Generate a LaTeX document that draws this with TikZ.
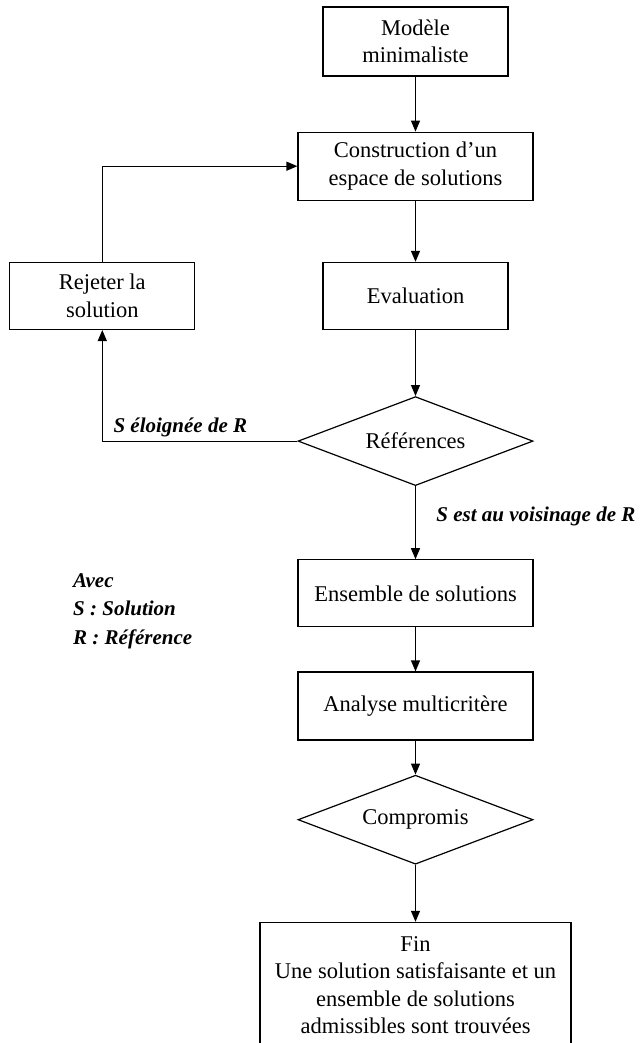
\documentclass[tikz,border=0pt]{standalone}
\usepackage{fontspec}
\setmainfont{Liberation Serif}
\usetikzlibrary{arrows.meta, positioning, shapes.geometric}
\tikzset{
  stepbox/.style={draw, line width=1.2pt, align=center, minimum width=235pt,
    minimum height=68pt, inner sep=4pt, font=\fontsize{22.5}{27.5}\selectfont},
  smallbox/.style={stepbox, minimum width=185pt, minimum height=67pt},
  choice/.style={draw, diamond, aspect=2.6, line width=1.2pt, minimum width=235pt,
    minimum height=89pt, inner sep=0pt, font=\fontsize{22.5}{27.5}\selectfont},
  cond/.style={font=\fontsize{21}{28.5}\selectfont\bfseries\itshape},
  arrow/.style={-{Triangle[length=11pt,width=9pt]}, line width=1.2pt}
}

\begin{document}
\begin{tikzpicture}[x=1pt, y=1pt]
      \useasboundingbox (0,0) rectangle (641,-1043);
      \clip (0,0) rectangle (641,-1043);

      % === Main track ===
      \node[smallbox, minimum height=69pt] (modele) at (415.5,-41.5) {Modèle\\minimaliste};
      \node[stepbox, below=55pt of modele] (constr) {Construction d’un\\espace de solutions};
      \node[smallbox, below=61pt of constr] (evalu) {Evaluation};
      \node[choice, below=66pt of evalu] (refs) {Références};
      \node[stepbox, minimum height=67pt, below=73pt of refs] (ensemble) {Ensemble de solutions};
      \node[stepbox, below=44pt of ensemble] (analyse) {Analyse multicritère};
      \node[choice, below=34pt of analyse] (compromis) {Compromis};
      \node[stepbox, minimum width=311pt, inner ysep=14pt, below=57pt of compromis] (fin)
        {Fin\\Une solution satisfaisante et un\\ensemble de solutions\\admissibles sont trouvées};

      \draw[arrow] (modele) -- (constr);
      \draw[arrow] (constr) -- (evalu);
      \draw[arrow] (evalu) -- (refs);
      \draw[arrow] (refs) -- node[cond, pos=0.42, anchor=west, xshift=17pt] {S est au voisinage de R} (ensemble);
      \draw[arrow] (ensemble) -- (analyse);
      \draw[arrow] (analyse) -- (compromis);
      \draw[arrow] (compromis) -- (fin);

      % === Rejection loop ===
      \node[smallbox, left=127pt of evalu] (rejet) {Rejeter la\\solution};
      \draw[arrow] (refs.west) -| node[cond, above, pos=0.3] {S éloignée de R} (rejet.south);
      \draw[arrow] (rejet.north) |- (constr.west);

      % Legend
      \node[cond, align=left, anchor=west, inner sep=0pt] (legende) at (73,-611)
        {Avec\\S : Solution\\R : Référence};
\end{tikzpicture}
\end{document}
